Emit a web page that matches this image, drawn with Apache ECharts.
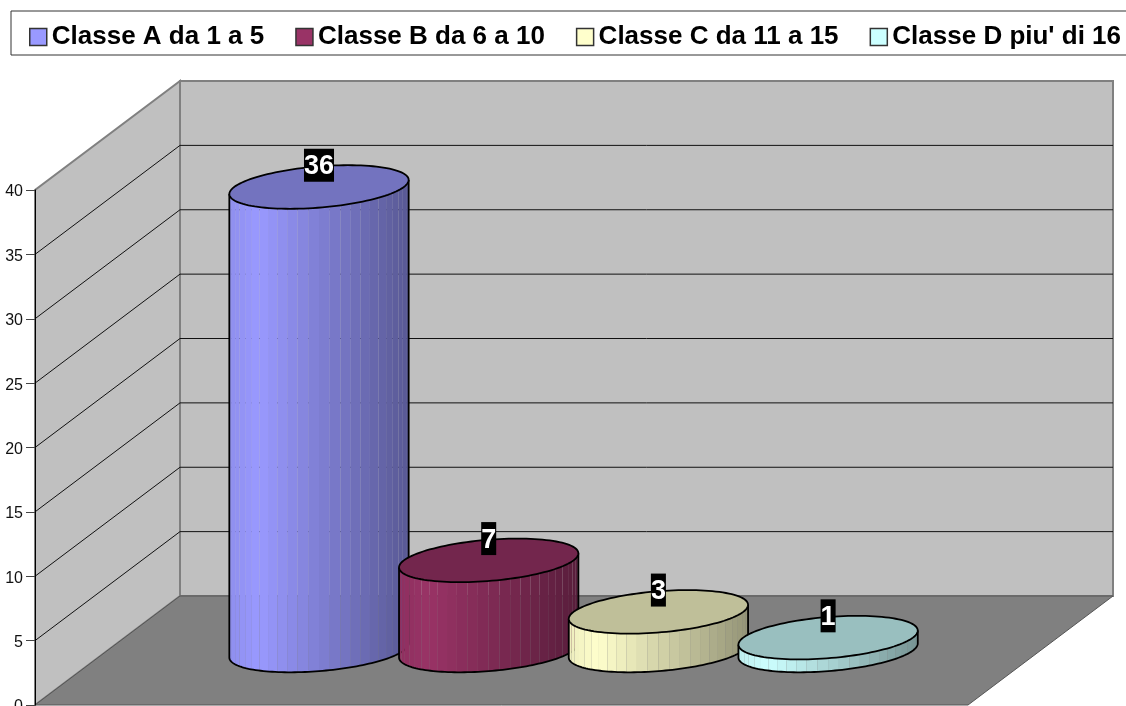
<!DOCTYPE html>
<html><head><meta charset="utf-8">
<style>html,body{margin:0;padding:0;background:#fff;overflow:hidden}#c{width:1126px;height:706px}</style>
<script src="https://cdn.jsdelivr.net/npm/echarts@6/dist/echarts.min.js"></script>
</head><body><div id="c"></div>
<script>
var categories = ["Classe A da 1 a 5", "Classe B da 6 a 10", "Classe C da 11 a 15", "Classe D piu' di 16"];
var values = [36, 7, 3, 1];
var baseColors = [[153,153,255],[153,51,102],[255,255,204],[204,255,255]];
var gridTicks = [5, 10, 15, 20, 25, 30, 35];
var depth = [145, -109];
var FONT = '"Liberation Sans", Arial, sans-serif';

function rgb(c, k){ return 'rgb(' + c.map(function(v){return Math.round(v*k);}).join(',') + ')'; }
function shade(g){ return g < 0.16 ? 0.93 + 0.07*g/0.16 : 1 - (g-0.16)/0.84*0.42; }

function renderWalls(params, api){
  var f0 = api.coord([0,0]), f1 = api.coord([1,0]), t0 = api.coord([0,40]);
  var dx = depth[0], dy = depth[1];
  var edge = {stroke:'#808080', lineWidth:2};
  return {type:'group', children:[
    {type:'polygon', shape:{points:[[f0[0]+dx,f0[1]+dy],[f1[0]+dx,f1[1]+dy],[f1[0]+dx,t0[1]+dy],[t0[0]+dx,t0[1]+dy]]},
      style:Object.assign({fill:'#C0C0C0'},edge)},
    {type:'polygon', shape:{points:[f0,[f0[0]+dx,f0[1]+dy],[t0[0]+dx,t0[1]+dy],t0]},
      style:Object.assign({fill:'#C0C0C0'},edge)},
    {type:'polygon', shape:{points:[f0,f1,[f1[0]+dx,f1[1]+dy],[f0[0]+dx,f0[1]+dy]]},
      style:{fill:'#808080', stroke:'#555', lineWidth:1}}
  ]};
}
function renderGrid(params, api){
  var p = api.coord([0, api.value(0)]), q = api.coord([1, api.value(0)]);
  var b = [p[0]+depth[0], p[1]+depth[1]], e = [q[0]+depth[0], q[1]+depth[1]];
  return {type:'polyline', shape:{points:[p,b,e]}, style:{fill:null, stroke:'#111', lineWidth:1}};
}
function renderCylinder(params, api){
  var idx = api.value(0), val = api.value(1);
  var top0 = api.coord([idx, val]), base0 = api.coord([idx, 0]);
  var col = baseColors[idx];
  var Rx = api.size([1,0])[0]/2, Dx = depth[0]*0.2, Dy = depth[1]*0.2;
  var cxT = top0[0]+depth[0]/2, cyT = top0[1]+depth[1]/2;
  var cyB = base0[1]+depth[1]/2;
  var R = Math.sqrt(Rx*Rx+Dx*Dx), alpha = Math.atan2(Dx,Rx);
  function pt(t, cy){ return [cxT + Rx*Math.cos(t) + Dx*Math.sin(t), cy + Dy*Math.sin(t)]; }
  var ch = [], N = 26, i, t0 = Math.PI+alpha, span = Math.PI;
  for(i=0;i<N;i++){
    var a = t0 + span*i/N, b = t0 + span*(i+1)/N;
    var g = (pt((a+b)/2,0)[0]-(cxT-R))/(2*R);
    ch.push({type:'polygon', shape:{points:[pt(a,cyT),pt(b,cyT),pt(b,cyB),pt(a,cyB)]}, style:{fill:rgb(col,shade(g))}});
  }
  var out = [], top = [];
  for(i=0;i<=80;i++){ out.push(pt(t0+span*i/80,cyB)); }
  out.unshift(pt(t0,cyT)); out.push(pt(t0+span,cyT));
  for(i=0;i<120;i++){ top.push(pt(2*Math.PI*i/120,cyT)); }
  ch.push({type:'polyline', shape:{points:out}, style:{fill:null, stroke:'#000', lineWidth:1.8}});
  ch.push({type:'polygon', shape:{points:top}, style:{fill:rgb(col,0.75), stroke:'#000', lineWidth:1.8}});
  ch.push({type:'text', style:{text:String(val), x:cxT, y:cyT+Dy, align:'center', verticalAlign:'middle',
    font:'bold 27px '+FONT, fill:'#000', backgroundColor:'#000', lineHeight:33}});
  ch.push({type:'text', style:{text:String(val), x:cxT, y:cyT+Dy+1.5, align:'center', verticalAlign:'middle',
    font:'bold 27px '+FONT, fill:'#fff', lineHeight:33}});
  return {type:'group', children:ch};
}
var series = [
  {type:'custom', name:'walls', xAxisIndex:0, yAxisIndex:0, z:1, silent:true, data:[[0,0]], renderItem:renderWalls},
  {type:'custom', name:'grid', xAxisIndex:0, yAxisIndex:0, z:2, silent:true, data:gridTicks.map(function(v){return [v];}), encode:{y:0}, renderItem:renderGrid}
];
categories.forEach(function(c,i){
  series.push({type:'custom', name:c, xAxisIndex:1, yAxisIndex:1, z:3+i, itemStyle:{color:rgb(baseColors[i],1)},
    data:[[i, values[i]]], encode:{x:0,y:1}, renderItem:renderCylinder});
});
var chart = echarts.init(document.getElementById('c'), null, {renderer:'canvas'});
chart.setOption({
  animation:false, backgroundColor:'#fff',
  legend:{left:11, top:11, width:1400, padding:[13,19,5,18], itemGap:31, itemWidth:17, itemHeight:17,
    backgroundColor:'#fff', borderColor:'#333', borderWidth:1, selectedMode:false, icon:'rect',
    itemStyle:{borderColor:'#333', borderWidth:1.5},
    textStyle:{fontFamily:FONT, fontWeight:'bold', fontSize:26, color:'#000'},
    data:categories},
  grid:[{left:35, top:190, width:933, height:515, outerBoundsMode:'none'},{left:161.65, top:190, width:678.8, height:515, outerBoundsMode:'none'}],
  xAxis:[{type:'value', gridIndex:0, min:0, max:1, show:false},
         {type:'category', gridIndex:1, data:categories, show:false}],
  yAxis:[{type:'value', gridIndex:0, min:0, max:40, interval:5, z:10, offset:1,
          axisLine:{show:true, lineStyle:{color:'#000', width:1}},
          axisTick:{show:true, length:9, lineStyle:{color:'#444'}},
          axisLabel:{fontFamily:FONT, fontSize:16, color:'#111', margin:11, verticalAlign:'top', lineHeight:16, padding:[-6,0,0,0]}, splitLine:{show:false}},
         {type:'value', gridIndex:1, min:0, max:40, interval:5, show:false}],
  series:series
});
</script></body></html>
